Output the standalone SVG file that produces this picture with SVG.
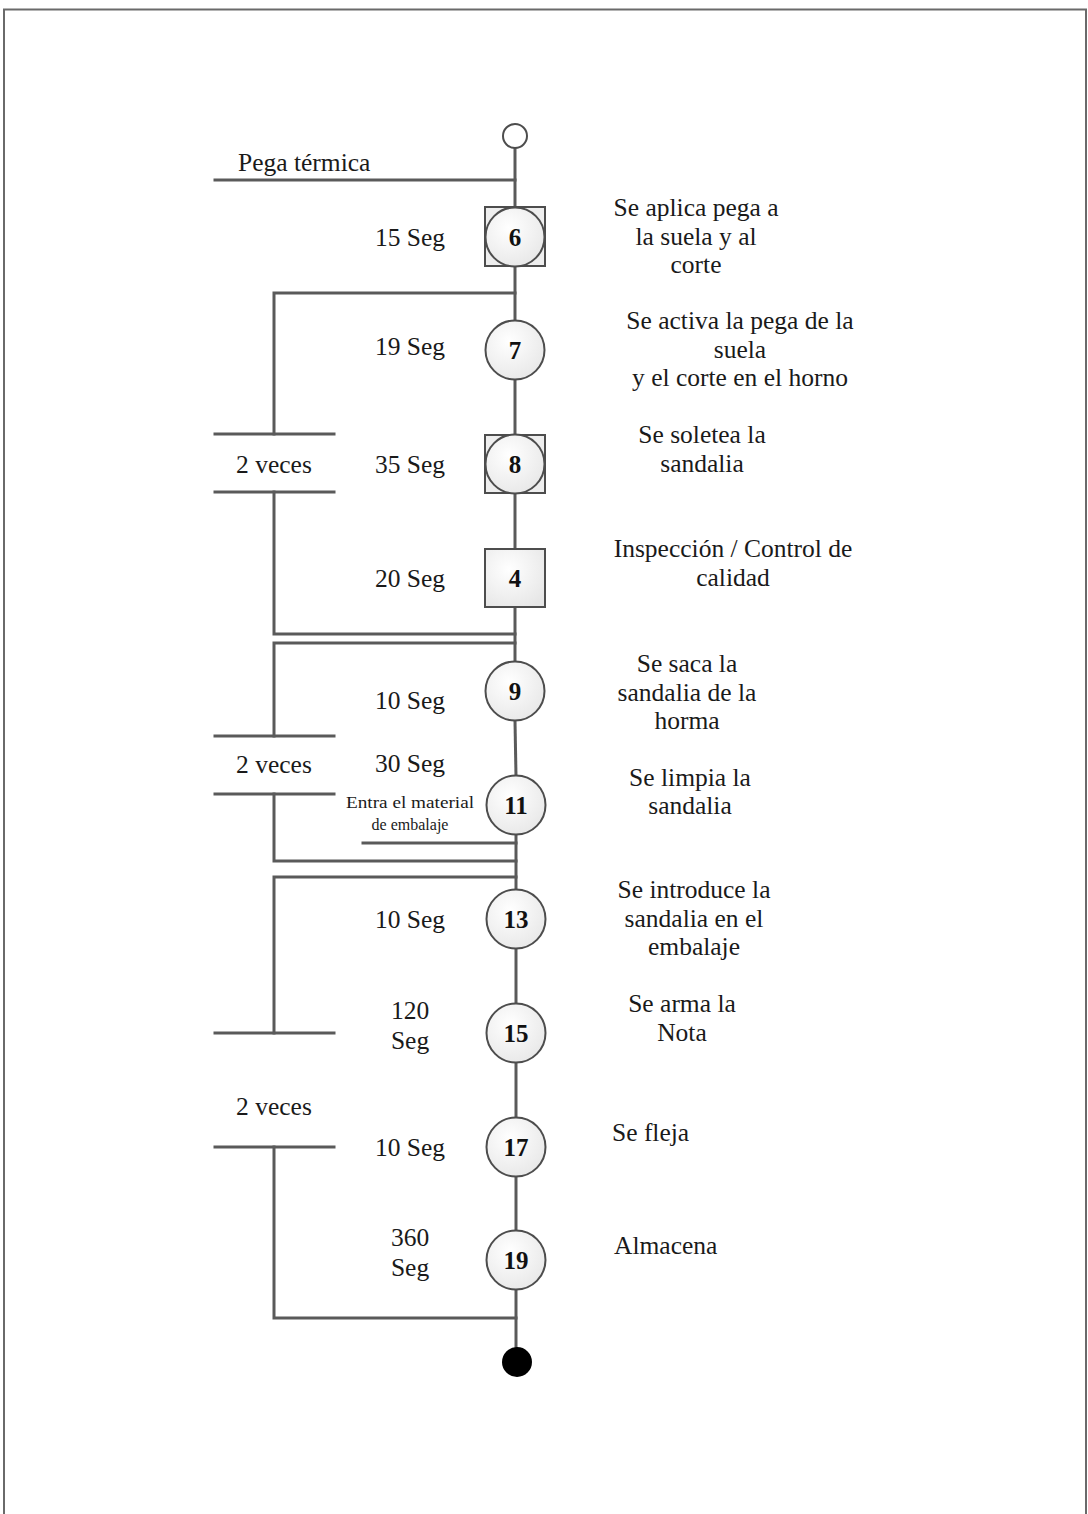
<svg xmlns="http://www.w3.org/2000/svg" width="1088" height="1514" viewBox="0 0 1088 1514">
  <style>
    .ln { stroke: #5a5a5a; stroke-width: 3; fill: none; stroke-linecap: square; }
    .shape { stroke: #4d4d4d; stroke-width: 2; }
    .t { font-family: "Liberation Serif", "Times New Roman", serif; font-size: 25.5px; fill: #1a1a1a; }
    .c { text-anchor: middle; }
    .e { text-anchor: end; }
    .num { font-family: "Liberation Serif", "Times New Roman", serif; font-size: 25px; font-weight: bold; fill: #111; text-anchor: middle; }
    .small { font-family: "Liberation Serif", "Times New Roman", serif; font-size: 16px; fill: #1a1a1a; text-anchor: middle; }
  </style>
  <defs>
    <radialGradient id="ball" cx="0.4" cy="0.35" r="0.75">
      <stop offset="0" stop-color="#ffffff"/>
      <stop offset="1" stop-color="#e6e6e6"/>
    </radialGradient>
  </defs>

  <rect width="1088" height="1514" fill="#ffffff"/>
  <!-- page frame -->
  <rect x="4" y="9.5" width="1082" height="1520" fill="none" stroke="#6a6a6a" stroke-width="2"/>

  <!-- connectors -->
  <g id="connectors">
    <!-- main spine -->
    <line class="ln" x1="515" y1="148" x2="515" y2="208"/>
    <line class="ln" x1="515" y1="266" x2="515" y2="321"/>
    <line class="ln" x1="515" y1="379" x2="515" y2="435"/>
    <line class="ln" x1="515" y1="493" x2="515" y2="549"/>
    <line class="ln" x1="515" y1="607" x2="515" y2="661"/>
    <line class="ln" x1="515" y1="721" x2="516" y2="776"/>
    <line class="ln" x1="516" y1="834" x2="516" y2="890"/>
    <line class="ln" x1="516" y1="948" x2="516" y2="1004"/>
    <line class="ln" x1="516" y1="1062" x2="516" y2="1118"/>
    <line class="ln" x1="516" y1="1176" x2="516" y2="1231"/>
    <line class="ln" x1="516" y1="1289" x2="516" y2="1348"/>

    <!-- material input: Pega térmica -->
    <line class="ln" x1="215" y1="180" x2="515" y2="180"/>

    <!-- repeat loop 1 -->
    <polyline class="ln" points="515,293 274,293 274,434"/>
    <line class="ln" x1="215" y1="434" x2="334" y2="434"/>
    <line class="ln" x1="215" y1="492" x2="334" y2="492"/>
    <polyline class="ln" points="274,492 274,634 515,634"/>

    <!-- repeat loop 2 -->
    <polyline class="ln" points="515,643 274,643 274,736"/>
    <line class="ln" x1="215" y1="736" x2="334" y2="736"/>
    <line class="ln" x1="215" y1="794" x2="334" y2="794"/>
    <polyline class="ln" points="274,794 274,861 516,861"/>

    <!-- material input: embalaje -->
    <line class="ln" x1="363" y1="843" x2="516" y2="843"/>

    <!-- repeat loop 3 -->
    <polyline class="ln" points="516,877 274,877 274,1033"/>
    <line class="ln" x1="215" y1="1033" x2="334" y2="1033"/>
    <line class="ln" x1="215" y1="1147" x2="334" y2="1147"/>
    <polyline class="ln" points="274,1147 274,1318 516,1318"/>
  </g>

  <!-- start -->
  <g id="start">
    <circle class="shape" cx="515" cy="136" r="12" fill="#ffffff"/>
  </g>

  <g id="pega-termica">
    <text class="t" x="238" y="171">Pega térmica</text>
  </g>

  <!-- step 6: combined operation / inspection -->
  <g id="node-6">
    <rect class="shape" x="485" y="207" width="60" height="59" fill="#eeeeee"/>
    <circle class="shape" cx="515" cy="237" r="29.5" fill="url(#ball)"/>
    <text class="num" x="515" y="246">6</text>
    <text class="t e" x="445" y="246">15 Seg</text>
    <text class="t c" x="696" y="216">Se aplica pega a</text>
    <text class="t c" x="696" y="245">la suela y al</text>
    <text class="t c" x="696" y="273">corte</text>
  </g>

  <g id="node-7">
    <circle class="shape" cx="515" cy="350" r="29.5" fill="url(#ball)"/>
    <text class="num" x="515" y="359">7</text>
    <text class="t e" x="445" y="355">19 Seg</text>
    <text class="t c" x="740" y="329">Se activa la pega de la</text>
    <text class="t c" x="740" y="358">suela</text>
    <text class="t c" x="740" y="386">y el corte en el horno</text>
  </g>

  <g id="node-8">
    <rect class="shape" x="485" y="435" width="60" height="58" fill="#eeeeee"/>
    <circle class="shape" cx="515" cy="464" r="29.5" fill="url(#ball)"/>
    <text class="num" x="515" y="473">8</text>
    <text class="t e" x="445" y="473">35 Seg</text>
    <text class="t c" x="702" y="443">Se soletea la</text>
    <text class="t c" x="702" y="472">sandalia</text>
  </g>

  <g id="node-4">
    <rect class="shape" x="485" y="549" width="60" height="58" fill="url(#ball)"/>
    <text class="num" x="515" y="587">4</text>
    <text class="t e" x="445" y="587">20 Seg</text>
    <text class="t c" x="733" y="557">Inspección / Control de</text>
    <text class="t c" x="733" y="586">calidad</text>
  </g>

  <g id="node-9">
    <circle class="shape" cx="515" cy="691" r="29.5" fill="url(#ball)"/>
    <text class="num" x="515" y="700">9</text>
    <text class="t e" x="445" y="709">10 Seg</text>
    <text class="t c" x="687" y="672">Se saca la</text>
    <text class="t c" x="687" y="701">sandalia de la</text>
    <text class="t c" x="687" y="729">horma</text>
  </g>

  <g id="node-11">
    <circle class="shape" cx="516" cy="805" r="29.5" fill="url(#ball)"/>
    <text class="num" x="516" y="814">11</text>
    <text class="t e" x="445" y="772">30 Seg</text>
    <text class="small" x="410" y="808" textLength="128" lengthAdjust="spacingAndGlyphs">Entra el material</text>
    <text class="small" x="410" y="830">de embalaje</text>
    <text class="t c" x="690" y="786">Se limpia la</text>
    <text class="t c" x="690" y="814">sandalia</text>
  </g>

  <g id="node-13">
    <circle class="shape" cx="516" cy="919" r="29.5" fill="url(#ball)"/>
    <text class="num" x="516" y="928">13</text>
    <text class="t e" x="445" y="928">10 Seg</text>
    <text class="t c" x="694" y="898">Se introduce la</text>
    <text class="t c" x="694" y="927">sandalia en el</text>
    <text class="t c" x="694" y="955">embalaje</text>
  </g>

  <g id="node-15">
    <circle class="shape" cx="516" cy="1033" r="29.5" fill="url(#ball)"/>
    <text class="num" x="516" y="1042">15</text>
    <text class="t c" x="410" y="1019">120</text>
    <text class="t c" x="410" y="1049">Seg</text>
    <text class="t c" x="682" y="1012">Se arma la</text>
    <text class="t c" x="682" y="1041">Nota</text>
  </g>

  <g id="node-17">
    <circle class="shape" cx="516" cy="1147" r="29.5" fill="url(#ball)"/>
    <text class="num" x="516" y="1156">17</text>
    <text class="t e" x="445" y="1156">10 Seg</text>
    <text class="t" x="612" y="1141">Se fleja</text>
  </g>

  <g id="node-19">
    <circle class="shape" cx="516" cy="1260" r="29.5" fill="url(#ball)"/>
    <text class="num" x="516" y="1269">19</text>
    <text class="t c" x="410" y="1246">360</text>
    <text class="t c" x="410" y="1276">Seg</text>
    <text class="t" x="614" y="1254">Almacena</text>
  </g>

  <!-- repeat labels -->
  <g id="repeat-1"><text class="t c" x="274" y="473">2 veces</text></g>
  <g id="repeat-2"><text class="t c" x="274" y="773">2 veces</text></g>
  <g id="repeat-3"><text class="t c" x="274" y="1115">2 veces</text></g>

  <!-- end -->
  <g id="end">
    <circle cx="517" cy="1362" r="15" fill="#000000"/>
  </g>
</svg>
